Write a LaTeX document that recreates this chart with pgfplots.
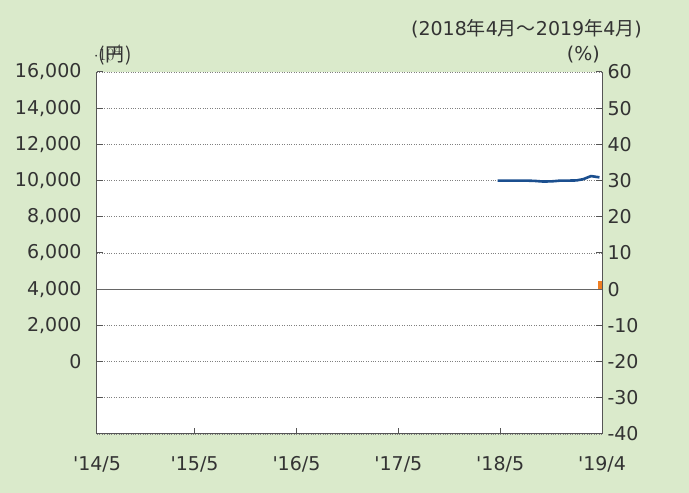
\documentclass[border=0pt]{standalone}
\usepackage{fontspec}
\setmainfont{DejaVu Sans}
\newfontfamily\jp{Noto Sans CJK JP}
\usepackage{pgfplots}
\pgfplotsset{compat=1.18}
\definecolor{bg}{HTML}{DAEACB}
\definecolor{axc}{HTML}{555555}
\definecolor{txt}{HTML}{333333}
\definecolor{linec}{HTML}{1B4F8F}
\definecolor{barc}{HTML}{F07F22}
\begin{document}
\fontsize{19}{22}\selectfont
\begin{tikzpicture}[x=1pt,y=1pt]
\fill[bg] (-97,-59) rectangle (592,434);
\begin{axis}[
  at={(0,0)}, anchor=south west,
  scale only axis, width=505pt, height=362pt,
  xmin=0.5, xmax=60, ymin=-4000, ymax=16000,
  axis background/.style={fill=white},
  axis line style={axc, line width=1pt},
  xtick={0.5,12,24,36,48,60},
  xticklabels={\textquotesingle14/5,\textquotesingle15/5,\textquotesingle16/5,\textquotesingle17/5,\textquotesingle18/5,\textquotesingle19/4},
  ytick={-4000,-2000,0,2000,4000,6000,8000,10000,12000,14000,16000},
  yticklabels={{},{},{0},{2,000},{4,000},{6,000},{8,000},{10,000},{12,000},{14,000},{16,000}},
  tick align=inside, major tick length=6pt,
  tick style={axc, line width=1pt},
  ticklabel style={font=\fontsize{19}{22}\selectfont, text=txt},
  yticklabel style={xshift=-9pt},
  xticklabel style={yshift=-16pt},
  axis y line*=left, axis x line*=bottom,
  ymajorgrids, grid style={gray, dotted, line width=0.8pt},
  clip=false,
]
\addplot[linec, line width=2.6pt, line join=round] coordinates {
(47.7,10000) (49,10000) (50,10000) (51,10000) (52,9985) (53,9950) (54,9955) (55,9995) (56,10000) (57,10010) (57.8,10080) (58.7,10250) (59.7,10180)
};
\end{axis}
\begin{axis}[
  at={(0,0)}, anchor=south west,
  scale only axis, width=505pt, height=362pt,
  xmin=0.5, xmax=60, ymin=-40, ymax=60,
  axis x line=none, axis y line*=right,
  axis line style={axc, line width=1pt},
  ytick={-40,-30,-20,-10,0,10,20,30,40,50,60},
  yticklabels={{-40},{-30},{-20},{-10},{0},{10},{20},{30},{40},{50},{60}},
  tick align=inside, major tick length=6pt,
  tick style={axc, line width=1pt},
  ticklabel style={font=\fontsize{19}{22}\selectfont, text=txt},
  yticklabel style={xshift=-1pt},
  clip=false,
]
\draw[axc!90, line width=1pt] (axis cs:0.5,0) -- (axis cs:60,0);
\addplot[ybar, bar width=4pt, fill=barc, draw=none] coordinates {(59.75,2.2)};
\node[anchor=south east, text=txt, inner sep=0pt] at (axis cs:60,60) [yshift=9pt,xshift=-2pt] {(\%)};
\node[anchor=south east, text=txt, inner sep=0pt] at (axis cs:60,60) [yshift=34pt,xshift=40pt] {(2018{\jp 年}4{\jp 月～}2019{\jp 年}4{\jp 月})};
\end{axis}
\node[anchor=base west, text=txt, inner sep=0pt, font=\jp] at (1,372) {(\kern1pt 円\kern1pt)};
\end{tikzpicture}
\end{document}
